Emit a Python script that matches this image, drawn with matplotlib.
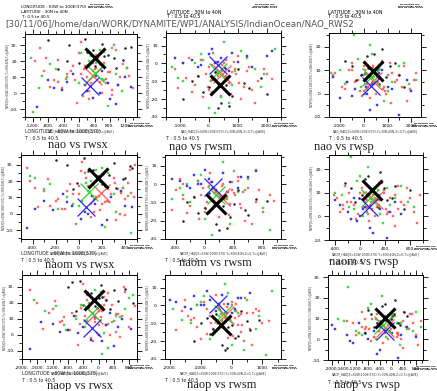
import matplotlib.pyplot as plt
from matplotlib.ticker import MultipleLocator, FuncFormatter

W, H = 437, 391

# y values (rws index) per group, shared by the panels of a column
y_rwsx = dict(
    black=[30, 34, 27, 18, 24, 16, 21, 29, 15, 23, 33, 19, 26, 17, 31, 22, 28, 20],
    red=[20, 14, 8, 3, 12, 17, 25, -2, 10, 6, 15, 22, 0, 9, 13, 30, 5, 18, 11, 7, -4, 16, 26, 2, 12, 19,
         28, 4, 21, 9, 14, -6, 32, 17, 1, 11, 24, 7, 19, 13, -1, 27, 10, 16, 3, 22, 8, 15, 6, 12],
    green=[22, 18, 10, 5, 14, 27, -8, 12, 16, 3, 20, -12, 8, 25, 15, 6, 19, 28, 1, 11, 23, 9],
    blue=[8, 2, 12, 5, -3, 0, 6, -7, 10, 3, 14, 4, -9, 7, 1, 11, -4, 5],
)
y_rwsm = dict(
    black=[-10, -16, -5, -22, -12, -18, -3, -14, -8, -25, -20, -7, -13, -2, -24, -11, -17, -9],
    red=[-3, -8, -12, 2, -6, -15, -1, -9, -4, -18, 0, -7, -11, -5, 4, -13, -2, -10, -6, -16, 1, -8, -3, -20, -9, -4,
         -14, 3, -7, -19, -2, -10, 6, -5, -12, -1, -8, -17, 1, -6, -11, -4, -22, -3, -9, 0, -13, -7, 2, -15],
    green=[-2, -10, 5, -16, -6, 12, -22, -4, 3, -13, -28, 0, -8, 8, -8, 2, -19, -12, 7, -3, -25, -6],
    blue=[2, -1, 5, 0, 3, -3, 6, 1, -2, 4, 7, 0, 3, -2, 8, 1, -4, 4],
)
y_rwsp = dict(
    black=[12, 8, 16, 5, 10, 19, 7, 13, 3, 11, 14, 6, 9, 17, 4, 12, 8, 11],
    red=[8, 3, 10, 5, 1, 12, 6, -2, 9, 4, 7, 11, 2, 0, 13, 5, 8, -3, 6, 10, 3, 7, 1, 9, 4, 12,
         9, 2, 13, 6, -1, 10, 4, 7, 11, 0, 5, 14, 3, 8, -4, 6, 12, 2, 9, 5, 1, 7, 10, 3],
    green=[9, 4, 15, 0, 21, 7, 11, -3, 5, 13, 2, 25, 8, 6, 10, 3, 17, 6, 1, 12, 8, 4],
    blue=[5, 2, 8, 0, 4, -5, 10, 3, -9, 6, 1, -2, 7, -1, 3, -7, 9, 2],
)

# x values (nao index) per panel
x_nao_rwsx = dict(
    black=[-250, 150, 350, 550, 750, 950, 1150, 1350, -550, 650, -800, 0, 200, 400, 600, 900, 1200, -300],
    red=[-1150, -900, -650, -450, -300, -150, 0, 100, 200, 300, 400, 500, 600, 700, 800, 900, 1000, 1150, 1300, -550, 250, 450, 650, 850, 50, 350,
         -1000, -750, -550, -350, -200, -50, 50, 150, 250, 350, 450, 550, 650, 750, 850, 950, 1050, 1250, 1400, -850, -100, 120, 700, 420],
    green=[-1250, -750, -300, 150, 350, 550, 750, 950, 1250, -1050, 250, -1200, 650, 50, -600, 0, 450, 850, 1100, -950, 300, 600],
    blue=[-800, -450, -150, 150, 350, 550, 750, 950, 1200, -650, 600, 1350, -1100, -300, 200, 450, 800, 1000],
)
x_nao_rwsm = dict(
    black=[-600, -200, 200, 400, 600, 800, 1000, 1400, 1800, 300, -900, -400, 0, 500, 700, 1200, 2000, 100],
    red=[-1200, -800, -500, -300, -100, 0, 100, 200, 300, 400, 500, 600, 700, 800, 1000, 1200, 1400, 1700, 2000, -600, 250, 650, 900, 1100, 150, 450,
         -1100, -700, -400, -200, 0, 50, 150, 250, 350, 450, 550, 750, 850, 950, 1050, 1300, 1600, 1900, 2200, -900, -50, 300, 600, 1500],
    green=[-1300, -900, -300, 100, 300, 500, 700, 900, 1300, 1800, 200, -500, 600, 2300, -1100, -200, 400, 800, 1100, 1600, 0, 1900],
    blue=[-600, -300, 0, 200, 400, 600, 800, 1000, 1500, 2000, 2200, -900, -1200, -400, 100, 300, 700, 1300],
)
x_nao_rwsp = dict(
    black=[-500, -100, 150, 350, 550, 750, 950, 1300, 1700, 250, -800, -300, 50, 450, 650, 1100, 1500, 200],
    red=[-1300, -900, -600, -350, -150, 0, 100, 250, 350, 450, 550, 650, 800, 950, 1100, 1300, 1500, 1800, 2100, -500, 200, 700, 900, 1200, 50, 400,
         -1200, -800, -500, -250, -50, 50, 150, 300, 400, 500, 600, 750, 850, 1000, 1150, 1400, 1700, 1950, 2200, -700, 0, 350, 650, 1600],
    green=[-1350, -800, -250, 50, 250, 450, 650, 850, 1200, 1700, 150, -400, 550, 2200, -1000, -100, 350, 750, 1000, 1500, 0, 1900],
    blue=[-700, -350, -50, 150, 350, 550, 750, 1000, 1500, 1800, 2000, -1000, -1300, -500, 100, 250, 650, 1200],
)
x_naom_rwsx = dict(
    black=[-100, 40, 120, 200, 260, 320, 380, 440, -50, 160, -200, -20, 80, 220, 300, 400, 460, 180],
    red=[-420, -300, -200, -120, -50, 0, 50, 100, 150, 200, 250, 300, 350, 400, 450, 480, -250, -80, 120, 220, 320, 380, 20, 180, 280, 420,
         -450, -350, -270, -180, -100, -30, 30, 80, 130, 170, 210, 260, 310, 360, 400, 440, 470, -380, -150, 60, 240, 340, 100, 0],
    green=[-380, -250, -100, 0, 80, 150, 220, 300, 380, -180, 100, 450, 30, 250, -300, -50, 60, 200, 320, 420, -420, 130],
    blue=[-300, -220, -140, -60, 20, 80, 140, 200, 280, -380, 360, 460, -450, -100, 50, 110, 240, 400],
)
x_naom_rwsm = dict(
    black=[-250, -100, 50, 150, 250, 350, 450, 550, 700, 200, -300, -150, 0, 100, 300, 400, 600, 850],
    red=[-400, -300, -200, -100, -50, 0, 50, 100, 150, 200, 250, 300, 350, 400, 450, 500, 600, 700, 900, -250, 80, 280, 380, 550, 120, 320,
         -450, -350, -150, -80, -20, 30, 70, 130, 180, 230, 270, 330, 370, 420, 480, 530, 650, 750, 950, -300, 0, 200, 450, 800],
    green=[-350, -200, -50, 50, 150, 250, 350, 450, 600, 800, 100, -250, 300, 700, -450, -100, 0, 200, 400, 550, 900, -300],
    blue=[-350, -250, -150, -50, 50, 150, 250, 350, 450, 600, 700, -100, -450, -200, 0, 100, 300, 500],
)
x_naom_rwsp = dict(
    black=[-150, -20, 80, 160, 240, 320, 420, 560, 700, 180, -250, -80, 30, 120, 280, 380, 500, 800],
    red=[-380, -280, -180, -100, -40, 20, 80, 140, 200, 260, 320, 380, 440, 520, 600, 700, 800, 900, -220, 60, 180, 300, 420, 560, 100, 240,
         -420, -330, -240, -150, -70, 0, 50, 110, 170, 230, 290, 350, 410, 470, 550, 650, 750, 850, 950, -280, 120, 260, 380, 600],
    green=[-300, -180, -60, 40, 120, 200, 280, 360, 480, 650, 100, -150, 240, 760, -400, -100, 0, 170, 320, 420, 560, 850],
    blue=[-320, -200, -100, 0, 80, 160, 240, 320, 420, 550, 650, -60, -400, -150, 40, 200, 300, 480],
)
x_naop_rwsx = dict(
    black=[-800, -500, -300, -100, 100, 300, 500, 700, -600, 0, -700, -400, -200, -50, 50, 200, 400, 900],
    red=[-1600, -1300, -1000, -800, -600, -450, -300, -200, -100, 0, 100, 200, 300, 400, 500, 650, 800, 950, -900, -500, -150, 50, 250, 450, -350, 150,
         -1800, -1450, -1150, -950, -700, -550, -400, -250, -50, 50, 150, 250, 350, 450, 550, 700, 850, -1200, -750, -300, -100, 0, 200, 600],
    green=[-1700, -1100, -600, -350, -150, 50, 250, 450, 700, -850, -250, 100, 350, 900, -1400, -900, -450, -100, 150, 550, 800, -300],
    blue=[-1500, -1000, -650, -400, -200, 0, 200, 400, 600, -800, 300, 850, -1800, -1200, -550, -100, 100, 500],
)
x_naop_rwsm = dict(
    black=[-1000, -700, -500, -300, -100, 100, 300, 600, 900, -200, -1200, -800, -600, -400, -150, 0, 200, 500],
    red=[-1600, -1300, -1100, -900, -700, -550, -400, -300, -200, -100, 0, 100, 200, 300, 450, 600, 800, 1000, -1400, -800, -250, -50, 150, 400, -450, 700,
         -1800, -1500, -1200, -1000, -800, -650, -500, -350, -250, -150, -50, 50, 150, 250, 350, 500, 650, 900, 1200, -1100, -600, -200, 0, 300],
    green=[-1900, -1300, -900, -600, -400, -200, 0, 200, 500, 800, 1100, -1100, -300, 1300, -1600, -1000, -700, -300, -100, 100, 400, 900],
    blue=[-1800, -1500, -1200, -900, -700, -500, -300, -100, 100, 300, 600, -1000, -2000, -1300, -800, -400, 0, 200],
)
x_naop_rwsp = dict(
    black=[-700, -500, -350, -200, -50, 100, 250, 400, -900, 0, -800, -600, -400, -250, -100, 50, 200, 500],
    red=[-1300, -1100, -900, -750, -600, -500, -400, -300, -200, -100, 0, 100, 200, 300, 400, 550, 700, 850, -1000, -650, -250, -50, 150, 350, -450, 600,
         -1500, -1200, -1000, -850, -700, -550, -450, -350, -250, -150, -50, 50, 150, 250, 350, 450, 650, 800, 950, -900, -600, -300, 0, 200],
    green=[-1600, -1200, -800, -550, -350, -150, 50, 250, 500, 800, -1000, -1450, 150, 950, -1800, -1100, -700, -400, -200, 0, 300, 700],
    blue=[-1900, -1500, -1100, -800, -600, -400, -200, 0, 200, 500, 800, -1300, -2000, -1400, -900, -500, -100, 300],
)

# group means (the big crosses)
mean_nao_rwsx = dict(red=(360, 11), green=(400, 12.5), blue=(280, 4.4), black=(400, 22))
mean_nao_rwsm = dict(red=(450, -6), green=(310, -5), blue=(310, -1), black=(380, -12))
mean_nao_rwsp = dict(red=(375, 5.4), green=(290, 7), blue=(290, 3.3), black=(375, 9.6))
mean_naom_rwsx = dict(red=(190, 13), green=(87, 13.5), blue=(60, 4.3), black=(165, 22))
mean_naom_rwsm = dict(red=(228, -7), green=(160, -6), blue=(113, -1.5), black=(160, -10.7))
mean_naom_rwsp = dict(red=(224, 6.8), green=(160, 7.7), blue=(144, 3.8), black=(192, 11))
mean_naop_rwsx = dict(red=(-134, 12.5), green=(-175, 13.7), blue=(-175, 4.4), black=(-134, 22))
mean_naop_rwsm = dict(red=(-225, -5.6), green=(-280, -4.6), blue=(-440, 1), black=(-330, -11))
mean_naop_rwsp = dict(red=(-240, 5.6), green=(-300, 7.1), blue=(-240, 4), black=(-240, 10.3))

titles = ["nao vs rwsx", "nao vs rwsm", "nao vs rwsp",
          "naom vs rwsx", "naom vs rwsm", "naom vs rwsp",
          "naop vs rwsx", "naop vs rwsm", "naop vs rwsp"]
xdata = [x_nao_rwsx, x_nao_rwsm, x_nao_rwsp, x_naom_rwsx, x_naom_rwsm,
         x_naom_rwsp, x_naop_rwsx, x_naop_rwsm, x_naop_rwsp]
ydata = [y_rwsx, y_rwsm, y_rwsp] * 3
means = [mean_nao_rwsx, mean_nao_rwsm, mean_nao_rwsp, mean_naom_rwsx, mean_naom_rwsm,
         mean_naom_rwsp, mean_naop_rwsx, mean_naop_rwsm, mean_naop_rwsp]
xlabels = ["NAO_HAD[X=60W:100E(370),Z=0,T=@AVE]",
           "NAO_HAD[X=60W:100E(370),Y=30N:40N,Z=0,T=@AVE]",
           "NAO_HAD[X=60W:100E(370),Y=30N:40N,Z=0,T=@AVE]",
           "NAOM_HAD[Y=30N:40N,Z=0,T=@AVE]",
           "NAOM_HAD[X=60W:100E(370),Y=30N:40N,Z=0,T=@AVE]",
           "NAOM_HAD[X=60W:100E(370),Y=30N:40N,Z=0,T=@AVE]",
           "NAOP_HAD[Y=30N:40N,Z=0,T=@AVE]",
           "NAOP_HAD[X=60W:100E(370),Y=30N:40N,Z=0,T=@AVE]",
           "NAOP_HAD[X=60W:100E(370),Y=30N:40N,Z=0,T=@AVE]"]
ylabels = ["RWSX[X=60W:100E(370),Y=30N:40N,T=@AVE]",
           "RWSM[X=60W:100E(370),Y=30N:40N,T=@AVE]",
           "RWSP[X=60W:100E(370),Y=30N:40N,T=@AVE]"] * 3

# layout: axes boxes in pixels (left, right, top, bottom), limits, tick steps
boxes = [(25, 137, 34, 117), (166, 281, 33, 117), (329, 421, 33, 117),
         (21, 137, 155, 239), (165, 281, 155, 239), (329, 423, 155, 240),
         (22, 137, 275, 359), (165, 281, 275, 359), (328, 423, 275, 360)]
xlims = [(-1400, 1500), (-1500, 2500), (-1450, 2400), (-500, 500), (-550, 1050),
         (-500, 1000), (-2000, 1000), (-2150, 1600), (-2130, 1030)]
ylims = [(-15, 37), (-30, 17), (-10, 26), (-15.5, 36), (-30, 16), (-10, 26),
         (-15, 37.5), (-30, 17), (-10, 31)]
xsteps = [400, 1000, 1000, 200, 400, 400, 400, 1000, 400]
title_pos = [(78, 145), (201, 147), (344, 147), (80, 265), (215, 263), (364, 262),
             (80, 386), (222, 385), (367, 385)]

colors = dict(red="#ff5a5a", green="#2ed62e", blue="#2626ee", black="#222222")

fig = plt.figure(figsize=(W / 100, H / 100), dpi=100)


def txt(x, y, s, **kw):
    kw.setdefault("va", "center")
    fig.text(x / W, 1 - y / H, s, **kw)


def stamp(x, y):
    txt(x, y, "DYNAMITE run\nNOAA/PMEL TMAP\nNov 30 2006 11:42", fontsize=1.7,
        fontweight="bold", ha="center", linespacing=1.0)


fmt = FuncFormatter(lambda v, p: f"{v + 0:g}.")

for i in range(9):
    l, r, t, b = boxes[i]
    ax = fig.add_axes([l / W, 1 - b / H, (r - l) / W, (b - t) / H])
    for c in ["red", "green", "blue", "black"]:
        xs, ys = xdata[i][c], ydata[i][c]
        if c == "black":
            ax.plot(xs, ys, ".", color=colors[c], ms=1.6, zorder=2)
        else:
            ax.plot(xs, ys, "s", color=colors[c], mfc=colors[c], ms=1.7,
                    mew=0.3, alpha=0.85, zorder=2)
    for c in ["red", "green", "blue", "black"]:
        mx, my = means[i][c]
        if c == "black":
            ax.plot(mx, my, "x", color="black", ms=14, mew=2.2, zorder=4)
        else:
            ax.plot(mx, my, "x", color=colors[c], ms=13, mew=0.9, zorder=3)
    ax.set_xlim(*xlims[i])
    ax.set_ylim(*ylims[i])
    ax.xaxis.set_major_locator(MultipleLocator(xsteps[i]))
    ax.xaxis.set_minor_locator(MultipleLocator(xsteps[i] / 2))
    ax.yaxis.set_major_locator(MultipleLocator(10))
    ax.yaxis.set_minor_locator(MultipleLocator(5))
    ax.xaxis.set_major_formatter(fmt)
    ax.yaxis.set_major_formatter(fmt)
    ax.tick_params(which="both", direction="out", top=True, right=True,
                   width=0.6, labelsize=3.2, pad=1.5)
    ax.tick_params(which="major", length=3.5)
    ax.tick_params(which="minor", length=2)
    for sp in ax.spines.values():
        sp.set_linewidth(0.7)

    tx, ty = title_pos[i]
    txt(tx, ty, titles[i], fontsize=9, family="Liberation Serif", ha="center",
        color="#222222")
    txt((l + r) / 2, b + 14, xlabels[i], fontsize=2.2, ha="center", color="#333333")
    txt(l - 18, (t + b) / 2, ylabels[i], fontsize=2.0, ha="center", rotation=90,
        color="#333333")
    stamp(r + 3, b + 8)
    if i % 3 == 0:
        txt(l, b + 15, "LONGITUDE : 60W to 100E(370)", fontsize=3.4, color="#222222")
        txt(l, b + 21, "T : 0.5 to 40.5", fontsize=3.4, color="#222222")
    else:
        txt(l, b + 22, "T : 0.5 to 40.5", fontsize=3.4, color="#222222")

# header
txt(21, 7, "LONGITUDE : 60W to 100E(370)", fontsize=3.0)
txt(21, 12, "LATITUDE : 30N to 40N", fontsize=3.0)
txt(21, 17, "T : 0.5 to 40.5", fontsize=3.0)
txt(167, 12, "LATITUDE : 30N to 40N", fontsize=3.4)
txt(167, 17, "T : 0.5 to 40.5", fontsize=3.4)
txt(328, 12, "LATITUDE : 30N to 40N", fontsize=3.4)
txt(328, 17, "T : 0.5 to 40.5", fontsize=3.4)
txt(5, 24, "[30/11/06]/home/dan/WORK/DYNAMITE/WP1/ANALYSIS/IndianOcean/NAO_RWS2",
    fontsize=6.3, color="#555555")
for sx in (100, 265, 410):
    stamp(sx, 6)

fig.savefig("out.png", dpi=100)
